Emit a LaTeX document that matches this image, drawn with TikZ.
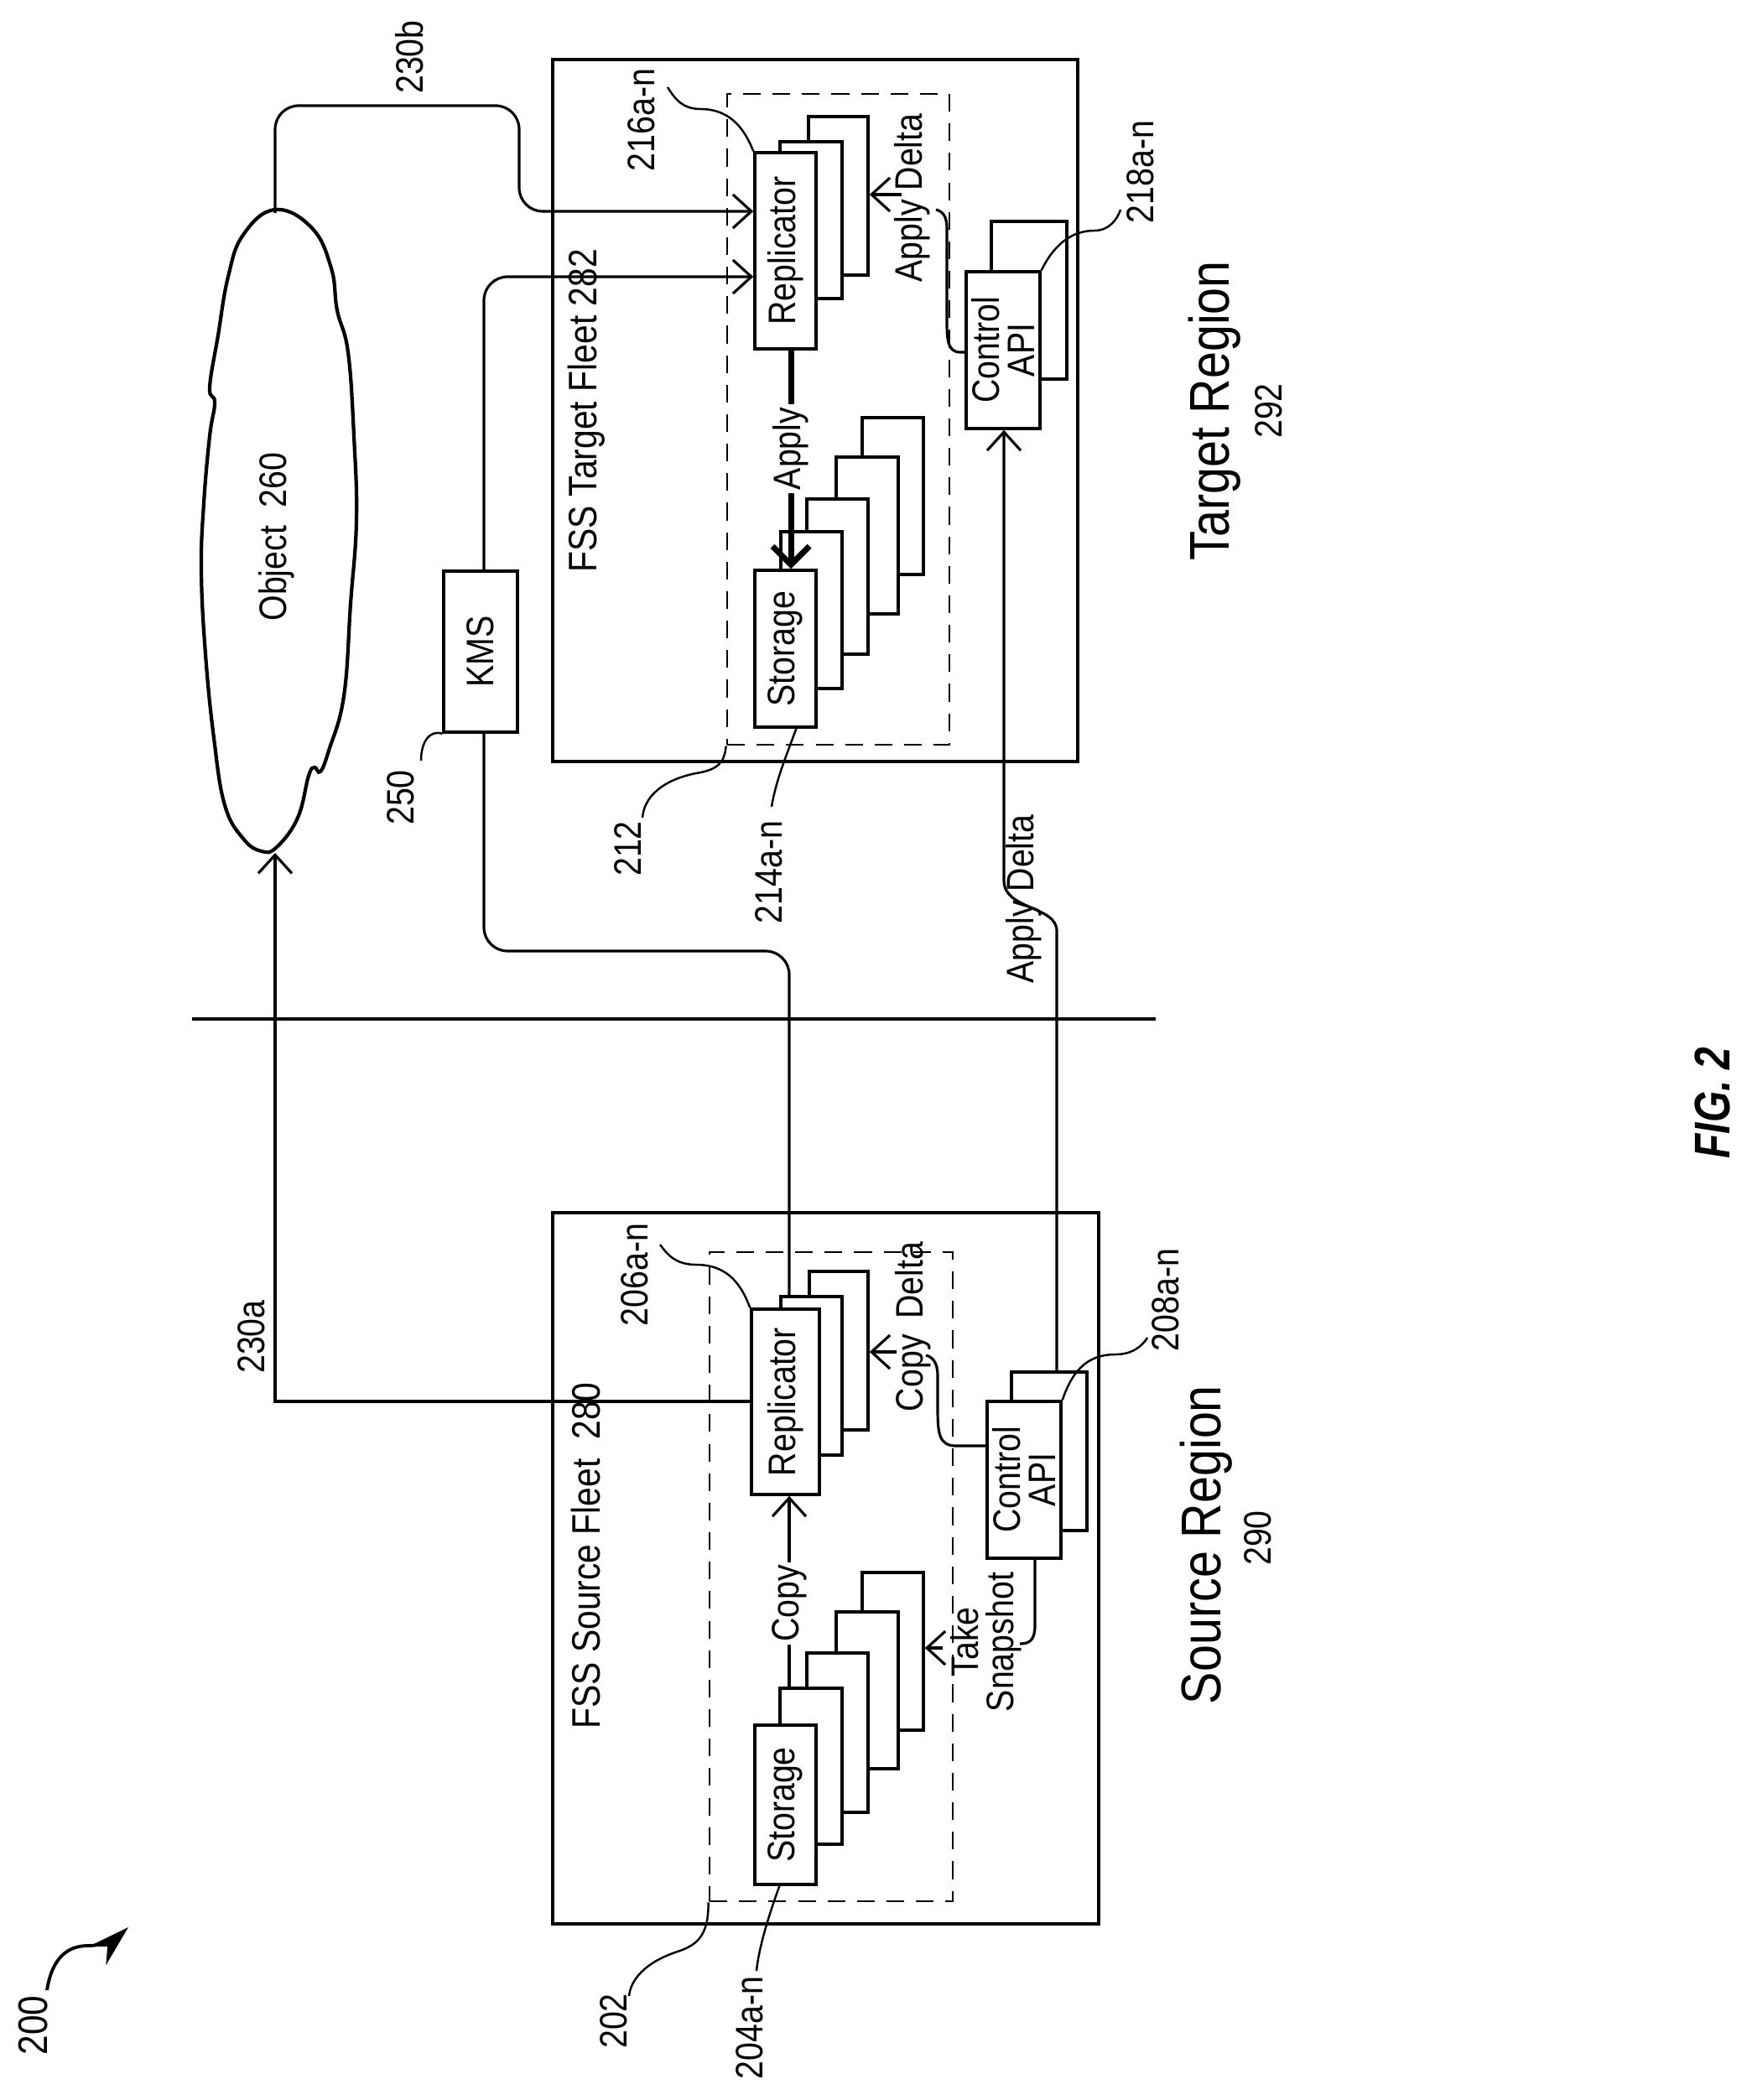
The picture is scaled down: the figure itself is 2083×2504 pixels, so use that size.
\documentclass[tikz,border=0pt]{standalone}
\usepackage{fontspec}
\setmainfont{Liberation Sans}[FakeStretch=0.86]
\newfontfamily\fignum{Liberation Sans}[FakeStretch=0.8]
\usetikzlibrary{arrows.meta,fit}
\begin{document}
\begin{tikzpicture}[x=0.01cm,y=-0.01cm,
  box/.style={draw,line width=1pt,fill=white,inner sep=0pt},
  frame/.style={draw,line width=1.2pt,inner sep=0pt},
  dbox/.style={draw,dash pattern=on 6pt off 4pt,line width=0.8pt,inner sep=0pt},
  wire/.style={line width=0.9pt},
  ar/.style={wire,-{Straight Barb[length=2.2mm,width=4mm]}},
  lead/.style={line width=0.7pt},
  txt/.style={rotate=90,font=\fontsize{13}{12}\selectfont,inner sep=1pt},
  ref/.style={rotate=90,font=\fontsize{13}{12}\selectfont,inner sep=1pt},
  lbl/.style={rotate=90,font=\fontsize{13}{13}\selectfont,inner sep=1pt,fill=white}]
\useasboundingbox (0,0) rectangle (2083,2504);
% ---------- source fleet ----------
\node[frame,fit={(659,1446)(1310,2294)}] (sfleet) {};
\node[dbox,fit={(846,1493)(1136,2267)}] (sdash) {};
\node[txt,font=\fontsize{13.5}{14}\selectfont] at (699,1855) {FSS Source Fleet\ \ 280};
% storage stack
\node[box,fit={(1028,1875)(1101,2063)}] (ss4) {};
\node[box,fit={(997,1922)(1071,2109)}] (ss3) {};
\node[box,fit={(962,1971)(1035,2161)}] (ss2) {};
\node[box,fit={(930,2013)(1004,2199)}] (ss1) {};
\node[box,fit={(900,2057)(973,2247)}] (sstor) {};
\node[txt] at (sstor.center) {Storage};
% replicator stack
\node[box,fit={(965,1516)(1035,1705)}] (sr2) {};
\node[box,fit={(931,1546)(1004,1735)}] (sr1) {};
\node[box,fit={(896,1561)(977,1782)}] (srep) {};
\node[txt] at (srep.center) {Replicator};
% control api
\node[box,fit={(1206,1636)(1296,1825)}] (sc1) {};
\node[box,fit={(1177,1671)(1265,1858)}] (sctl) {};
\node[txt,align=center] at (sctl.center) {Control\\API};
% ---------- target fleet ----------
\node[frame,fit={(659,71)(1285,908)}] (tfleet) {};
\node[dbox,fit={(867,112)(1132,888)}] (tdash) {};
\node[txt,font=\fontsize{13.5}{14}\selectfont] at (699,490) {FSS Target Fleet 282};
\node[box,fit={(1028,498)(1101,685)}] (ts4) {};
\node[box,fit={(997,545)(1071,732)}] (ts3) {};
\node[box,fit={(962,595)(1035,780)}] (ts2) {};
\node[box,fit={(931,634)(1004,821)}] (ts1) {};
\node[box,fit={(900,680)(973,867)}] (tstor) {};
\node[txt] at (tstor.center) {Storage};
\node[box,fit={(964,139)(1035,328)}] (tr2) {};
\node[box,fit={(930,169)(1004,356)}] (tr1) {};
\node[box,fit={(900,182)(973,416)}] (trep) {};
\node[txt] at (trep.center) {Replicator};
\node[box,fit={(1182,264)(1272,452)}] (tc1) {};
\node[box,fit={(1152,324)(1240,511)}] (tctl) {};
\node[txt,align=center] at (tctl.center) {Control\\API};
% ---------- KMS and cloud ----------
\node[box,fit={(529,681)(617,873)}] (kms) {};
\node[txt] at (kms.center) {KMS};
\draw[line width=1.2pt] plot[smooth cycle,tension=0.7] coordinates {
 (328,250) (372,272) (395,320) (402,370) (415,420) (422,520) (425,620) (418,720)
 (410,830) (392,895) (382,920) (375,915) (368,925) (355,975) (330,1010) (312,1015)
 (290,1000) (268,960) (255,880) (245,780) (240,680) (243,600) (250,520) (256,480)
 (250,462) (260,400) (272,330) (290,280)};
\coordinate (cloudtop) at (328,254);
\coordinate (cloudbot) at (328,1017);
\node[txt] (obj) at (330,640) {Object\ \ 260};
% ---------- divider ----------
\coordinate (dl) at (229,1215); \coordinate (dr) at (1378,1215);
\draw[line width=1.1pt] (dl) -- (dr);
% ---------- connectors ----------
\draw[ar] (srep.west |- 0,1671) -- (328,1671) -- (cloudbot);
\draw[ar,rounded corners=8pt] (cloudtop) -- (328,126) -- (619,126) -- (619,252) -- (trep.west |- 0,252);
\draw[ar,rounded corners=8pt] (kms.north -| 577,0) -- (577,330) -- (trep.west |- 0,330);
\draw[wire,rounded corners=8pt] (kms.south -| 577,0) -- (577,1134) -- (941,1134) -- (sr1.north -| 941,0);
\draw[ar] (sc1.north -| 1260,0) -- (1260,1110) .. controls (1260,1080) and (1197,1085) .. (1197,1050) -- (tctl.south -| 1197,0);
\node[ref] at (1221,1072) {Apply\ Delta};
% copy
\draw[ar] (ss1.north -| 941,0) -- (srep.south -| 941,0);
\node[lbl] at (941,1912) {Copy};
% copy delta
\draw[wire] (sctl.west |- 0,1724) -- (1140,1724) .. controls (1120,1724) and (1118,1710) .. (1118,1680) -- (1118,1640) .. controls (1118,1625) and (1112,1618) .. (1104,1616);
\draw[ar] (1069,1612) -- (sr2.east |- 0,1612);
\node[ref] at (1089,1582) {Copy\ \,Delta};
% take snapshot
\draw[wire] (sctl.south -| 1234,0) -- (1234,1938) .. controls (1234,1955) and (1228,1960) .. (1216,1960);
\draw[ar] (1124,1965) -- (ss4.east |- 0,1965);
\node[ref,align=center] at (1176,1958) {Take\\Snapshot};
% target apply
\draw[line width=2pt,-{Straight Barb[length=2.2mm,width=4.4mm]}] (trep.south -| 943,0) -- (tstor.north -| 943,0);
\node[lbl] at (943,535) {Apply};
% target apply delta
\draw[wire] (tctl.west |- 0,420) -- (1145,420) .. controls (1130,420) and (1129,405) .. (1129,385) -- (1129,272) .. controls (1129,258) and (1124,252) .. (1116,250);
\draw[ar] (1075,232) -- (tr2.east |- 0,232);
\node[ref] at (1088,236) {Apply\ Delta};
% ---------- leaders and refs ----------
\draw[lead] (srep.north west) .. controls (885,1535) and (870,1508) .. (830,1508) .. controls (805,1508) and (795,1495) .. (787,1484);
\node[ref] at (757,1520) {206a-n};
\draw[lead] (trep.north west) .. controls (890,160) and (875,130) .. (835,130) .. controls (812,130) and (803,115) .. (796,104);
\node[ref] at (765,143) {216a-n};
\draw[lead] (sctl.north east) .. controls (1280,1630) and (1300,1615) .. (1330,1615) .. controls (1350,1615) and (1362,1605) .. (1368,1595);
\node[ref] at (1390,1550) {208a-n};
\draw[lead] (tctl.north east) .. controls (1255,295) and (1275,275) .. (1305,275) .. controls (1322,275) and (1332,262) .. (1336,250);
\node[ref] at (1360,205) {218a-n};
\draw[lead] (sdash.south west) .. controls (845,2310) and (830,2320) .. (805,2328) .. controls (770,2340) and (752,2360) .. (750,2380);
\node[ref] at (732,2410) {202};
\draw[lead] (930,2247) .. controls (918,2280) and (905,2320) .. (902,2350);
\node[ref] at (894,2418) {204a-n};
\draw[lead] (tdash.south west) .. controls (864,910) and (855,918) .. (830,922) .. controls (790,930) and (768,950) .. (766,975);
\node[ref] at (749,1012) {212};
\draw[lead] (950,867) .. controls (940,895) and (925,930) .. (920,962);
\node[ref] at (917,1040) {214a-n};
\draw[lead] (kms.south west) .. controls (512,870) and (502,885) .. (502,907);
\node[ref] at (478,951) {250};
\node[ref] at (488,68) {230b};
\node[ref] at (300,1594) {230a};
% figure 200
\draw[line width=1.1pt,-{Stealth[length=5mm,width=3mm]}] (56,2373) .. controls (62,2335) and (80,2320) .. (105,2320) .. controls (125,2320) and (140,2310) .. (153,2298);
\node[ref,font=\fontsize{14}{14}\selectfont] at (40,2415) {200};
% regions
\node[rotate=90,font=\fontsize{19}{20}\selectfont] at (1448,490) {Target Region};
\node[rotate=90,font=\fontsize{13}{13}\selectfont] at (1513,490) {292};
\node[rotate=90,font=\fontsize{19}{20}\selectfont] at (1438,1842) {Source Region};
\node[rotate=90,font=\fontsize{13}{13}\selectfont] at (1500,1834) {290};
\node[rotate=90,font=\fignum\fontsize{17}{18}\selectfont\bfseries\itshape] at (2042,1315) {FIG. 2};
\end{tikzpicture}
\end{document}
